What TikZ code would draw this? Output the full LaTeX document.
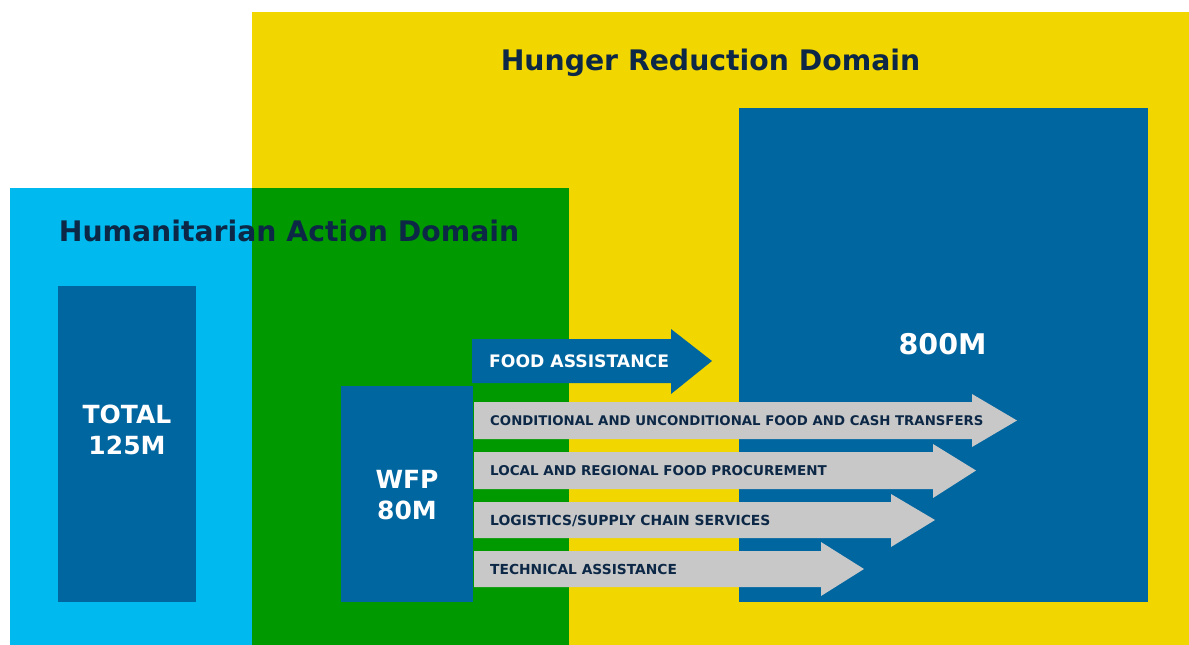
\documentclass[tikz,border=0pt]{standalone}
\usepackage{fontspec}
\setmainfont{DejaVu Sans}
\definecolor{hyellow}{RGB}{242,214,0}
\definecolor{hcyan}{RGB}{0,185,238}
\definecolor{hgreen}{RGB}{0,154,0}
\definecolor{hblue}{RGB}{0,102,160}
\definecolor{hgray}{RGB}{200,200,200}
\definecolor{hnavy}{RGB}{12,40,70}
\tikzset{
  title/.style={font=\bfseries\fontsize{28.3}{34}\selectfont, text=hnavy, anchor=base, inner sep=0pt},
  bigtxt/.style={font=\bfseries\fontsize{25}{31}\selectfont, text=white, align=center, inner sep=0pt},
  graylbl/.style={font=\bfseries\fontsize{13.3}{16}\selectfont, text=hnavy, anchor=base west, inner sep=0pt},
  foodlbl/.style={font=\bfseries\fontsize{17.2}{20}\selectfont, text=white, anchor=base west, inner sep=0pt},
}
\begin{document}
\begin{tikzpicture}[x=1pt,y=-1pt]
\useasboundingbox (0,0) rectangle (1189,645);
% domains
\fill[hyellow] (252,12) rectangle (1189,645);
\fill[hcyan] (10,188) rectangle (569,645);
\fill[hgreen] (252,188) rectangle (569,645);
% blue boxes
\fill[hblue] (739,108) rectangle (1148,602);
\fill[hblue] (58,286) rectangle (196,602);
\fill[hblue] (341,386) rectangle (473,602);
% titles
\node[title] (hrd) at (710.5,70) {Hunger Reduction Domain};
\node[title] (had) at (289,241.7) {Humanitarian Action Domain};
% box labels
\node[bigtxt, anchor=base] (m800) at (942.5,354) {\fontsize{28.5}{31}\selectfont 800M};
\node[bigtxt, anchor=base] (total) at (127,423) {TOTAL};
\node[bigtxt, anchor=base] (total2) at (127,454) {125M};
\node[bigtxt, anchor=base] (wfp) at (407,488) {WFP};
\node[bigtxt, anchor=base] (wfp2) at (407,519) {80M};
% food assistance arrow
\fill[hblue] (472,339) -- (671,339) -- (671,329) -- (712,361) -- (671,394) -- (671,383) -- (472,383) -- cycle;
\node[foodlbl] (food) at (489,367.3) {FOOD ASSISTANCE};
% gray arrows
\fill[hgray] (474,402) -- (972,402) -- (972,394) -- (1017,420.5) -- (972,447) -- (972,439) -- (474,439) -- cycle;
\fill[hgray] (474,452) -- (933,452) -- (933,444) -- (976,470.5) -- (933,498) -- (933,489) -- (474,489) -- cycle;
\fill[hgray] (474,502) -- (891,502) -- (891,494) -- (935,520) -- (891,547) -- (891,538) -- (474,538) -- cycle;
\fill[hgray] (474,551) -- (821,551) -- (821,542) -- (864,569) -- (821,596) -- (821,587) -- (474,587) -- cycle;
\node[graylbl] (a1) at (490,425.4) {CONDITIONAL AND UNCONDITIONAL FOOD AND CASH TRANSFERS};
\node[graylbl, font=\bfseries\fontsize{13.5}{16}\selectfont] (a2) at (490,475.4) {LOCAL AND REGIONAL FOOD PROCUREMENT};
\node[graylbl, font=\bfseries\fontsize{13.9}{16}\selectfont] (a3) at (490,525) {LOGISTICS/SUPPLY CHAIN SERVICES};
\node[graylbl, font=\bfseries\fontsize{13.8}{16}\selectfont] (a4) at (490,574) {TECHNICAL ASSISTANCE};
\end{tikzpicture}
\end{document}
